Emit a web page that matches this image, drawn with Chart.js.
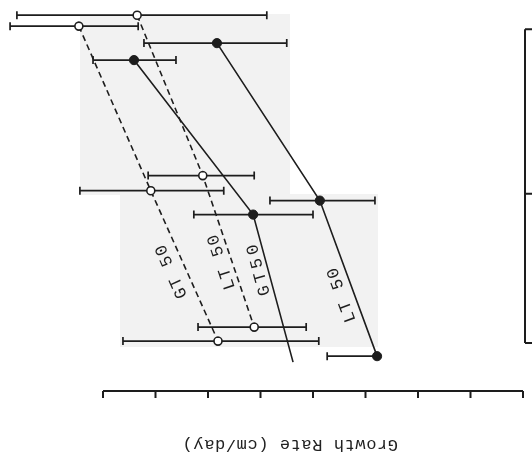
<!DOCTYPE html>
<html>
<head>
<meta charset="utf-8">
<script src="https://cdn.jsdelivr.net/npm/chart.js@4/dist/chart.umd.min.js"></script>
<style>
  html, body { margin: 0; padding: 0; background: #fff; }
  /* the figure is printed upside down on the page */
  #wrap { position: relative; width: 532px; height: 466px; transform: rotate(180deg); }
  canvas { display: block; }
</style>
</head>
<body>
<div id="wrap"><canvas id="chart" width="532" height="466"></canvas></div>
<script>
// Growth rate (cm/day) and level for each series, with the ends of each error bar
const ltSolidX  = [0.583, 0.387, 0.278];
const ltSolidY  = [0.089, 1.092, 2.083];
const ltSolidLo = [0.450, 0.282, 0.278];
const ltSolidHi = [0.722, 0.482, 0.373];

const gtSolidX  = [0.741, 0.514, 0.438];
const gtSolidY  = [0.197, 1.181, 2.121];
const gtSolidLo = [0.661, 0.400, null];
const gtSolidHi = [0.819, 0.627, null];

const ltDashX  = [0.735, 0.610, 0.512];
const ltDashY  = [-0.089, 0.933, 1.898];
const ltDashLo = [0.488, 0.512, 0.413];
const ltDashHi = [0.964, 0.714, 0.619];

const gtDashX  = [0.846, 0.709, 0.581];
const gtDashY  = [-0.019, 1.029, 1.987];
const gtDashLo = [0.733, 0.570, 0.389];
const gtDashHi = [0.977, 0.844, 0.762];

const seriesLabels = ['LT 50', 'GT50', 'LT 50', 'GT 50'];
const xTicks = [0, 0.1, 0.2, 0.3, 0.4, 0.5, 0.6, 0.7, 0.8];
const yTicks = [0, 1.048, 2];
const xTitle = 'Growth Rate (cm/day)';

const INK = '#1d1d1d';
const MONO = '"Liberation Mono", "DejaVu Sans Mono", monospace';

function pts(xs, ys) { return xs.map((x, i) => ({ x: x, y: ys[i] })); }

const filled = { pointBackgroundColor: INK, pointBorderColor: INK, pointBorderWidth: 1 };
const hollow = { pointBackgroundColor: '#fff', pointBorderColor: INK, pointBorderWidth: 1.6 };

const datasets = [
  Object.assign({ label: seriesLabels[0], data: pts(ltSolidX, ltSolidY), lo: ltSolidLo, hi: ltSolidHi,
    pointRadius: 4.6, borderDash: [] }, filled),
  Object.assign({ label: seriesLabels[1], data: pts(gtSolidX, gtSolidY), lo: gtSolidLo, hi: gtSolidHi,
    pointRadius: [4.6, 4.6, 0], borderDash: [] }, filled),
  Object.assign({ label: seriesLabels[2], data: pts(ltDashX, ltDashY), lo: ltDashLo, hi: ltDashHi,
    pointRadius: 4, borderDash: [6, 4] }, hollow),
  Object.assign({ label: seriesLabels[3], data: pts(gtDashX, gtDashY), lo: gtDashLo, hi: gtDashHi,
    pointRadius: 4, borderDash: [6, 4] }, hollow)
].map(d => Object.assign(d, { showLine: true, borderColor: INK, borderWidth: 1.6, tension: 0, clip: false }));

// light grey patches of the paper behind the curves
const paperPlugin = {
  id: 'paper',
  beforeDraw(chart) {
    const ctx = chart.ctx;
    ctx.save();
    ctx.fillStyle = '#f2f2f2';
    ctx.fillRect(242, 271, 210, 181);
    ctx.fillRect(154, 119, 258, 153);
    ctx.restore();
  }
};

// horizontal error bars with end caps
const errorBarPlugin = {
  id: 'errorBars',
  beforeDatasetsDraw(chart) {
    const ctx = chart.ctx, xs = chart.scales.x, ys = chart.scales.y;
    ctx.save();
    ctx.strokeStyle = INK;
    ctx.lineWidth = 1.7;
    chart.data.datasets.forEach(ds => {
      ds.data.forEach((p, i) => {
        const lo = ds.lo[i], hi = ds.hi[i];
        if (lo === null || hi === null) return;
        const y = ys.getPixelForValue(p.y);
        const x1 = xs.getPixelForValue(lo), x2 = xs.getPixelForValue(hi);
        ctx.beginPath();
        ctx.moveTo(x1, y); ctx.lineTo(x2, y);
        if (lo < p.x) { ctx.moveTo(x1, y - 4); ctx.lineTo(x1, y + 4); }
        if (hi > p.x) { ctx.moveTo(x2, y - 4); ctx.lineTo(x2, y + 4); }
        ctx.stroke();
      });
    });
    ctx.restore();
  }
};

// curve names written along each line, between the 2nd and 3rd points
const curveLabelPlugin = {
  id: 'curveLabels',
  afterDatasetsDraw(chart, args, opts) {
    const ctx = chart.ctx;
    ctx.save();
    ctx.fillStyle = INK;
    ctx.font = '17px ' + MONO;
    ctx.textAlign = 'center';
    ctx.textBaseline = 'middle';
    opts.place.forEach((pl, i) => {
      const el = chart.getDatasetMeta(i).data;
      const p1 = el[1], p2 = el[2];
      const px = p1.x + pl.t * (p2.x - p1.x);
      const py = p1.y + pl.t * (p2.y - p1.y);
      const ang = Math.atan2(p1.y - p2.y, p1.x - p2.x);
      const cx = px + pl.off * Math.sin(ang);
      const cy = py - pl.off * Math.cos(ang);
      ctx.save();
      ctx.translate(cx, cy);
      ctx.rotate(ang);
      ctx.letterSpacing = pl.spacing + 'px';
      ctx.fillText(chart.data.datasets[i].label, pl.spacing / 2, 0);
      ctx.restore();
    });
    ctx.restore();
  }
};

// separate axis lines with outward ticks and the axis title
const axesPlugin = {
  id: 'axesLines',
  afterDraw(chart, args, opts) {
    const ctx = chart.ctx, xs = chart.scales.x, ys = chart.scales.y;
    ctx.save();
    ctx.strokeStyle = INK;
    ctx.lineWidth = 2;
    ctx.beginPath();
    const top = ys.getPixelForValue(opts.xAxisAt);
    const x0 = xs.getPixelForValue(xTicks[0]), x1 = xs.getPixelForValue(xTicks[xTicks.length - 1]);
    ctx.moveTo(x0, top); ctx.lineTo(x1, top);
    xTicks.forEach(v => { const x = xs.getPixelForValue(v); ctx.moveTo(x, top); ctx.lineTo(x, top - 7); });
    const ax = x0 - 2;
    const yA = ys.getPixelForValue(yTicks[0]), yB = ys.getPixelForValue(yTicks[yTicks.length - 1]);
    ctx.moveTo(ax, yA); ctx.lineTo(ax, yB);
    yTicks.forEach(v => { const y = ys.getPixelForValue(v); ctx.moveTo(ax, y); ctx.lineTo(ax - 7, y); });
    ctx.stroke();

    ctx.fillStyle = '#222';
    ctx.font = '17px ' + MONO;
    ctx.letterSpacing = '0.6px';
    ctx.textAlign = 'center';
    ctx.textBaseline = 'middle';
    ctx.fillText(xTitle, (x0 + x1) / 2 + 23, top - 54);
    ctx.restore();
  }
};

new Chart(document.getElementById('chart'), {
  type: 'scatter',
  data: { datasets: datasets },
  options: {
    responsive: false,
    animation: false,
    devicePixelRatio: 1,
    layout: { padding: { left: 9, right: 24.25, top: 75, bottom: 4.34 } },
    scales: {
      x: { type: 'linear', min: 0, max: 0.95, display: false },
      y: { type: 'linear', min: -0.15, max: 2.305, display: false }
    },
    plugins: {
      legend: { display: false },
      tooltip: { enabled: false },
      axesLines: { xAxisAt: 2.305 },
      curveLabels: {
        place: [
          { t: 0.58, off: 12, spacing: 1.5 },
          { t: 0.36, off: 9, spacing: 4 },
          { t: 0.55, off: 10, spacing: 1.5 },
          { t: 0.50, off: 14, spacing: 1.5 }
        ]
      }
    }
  },
  plugins: [paperPlugin, errorBarPlugin, curveLabelPlugin, axesPlugin]
});
</script>
</body>
</html>
